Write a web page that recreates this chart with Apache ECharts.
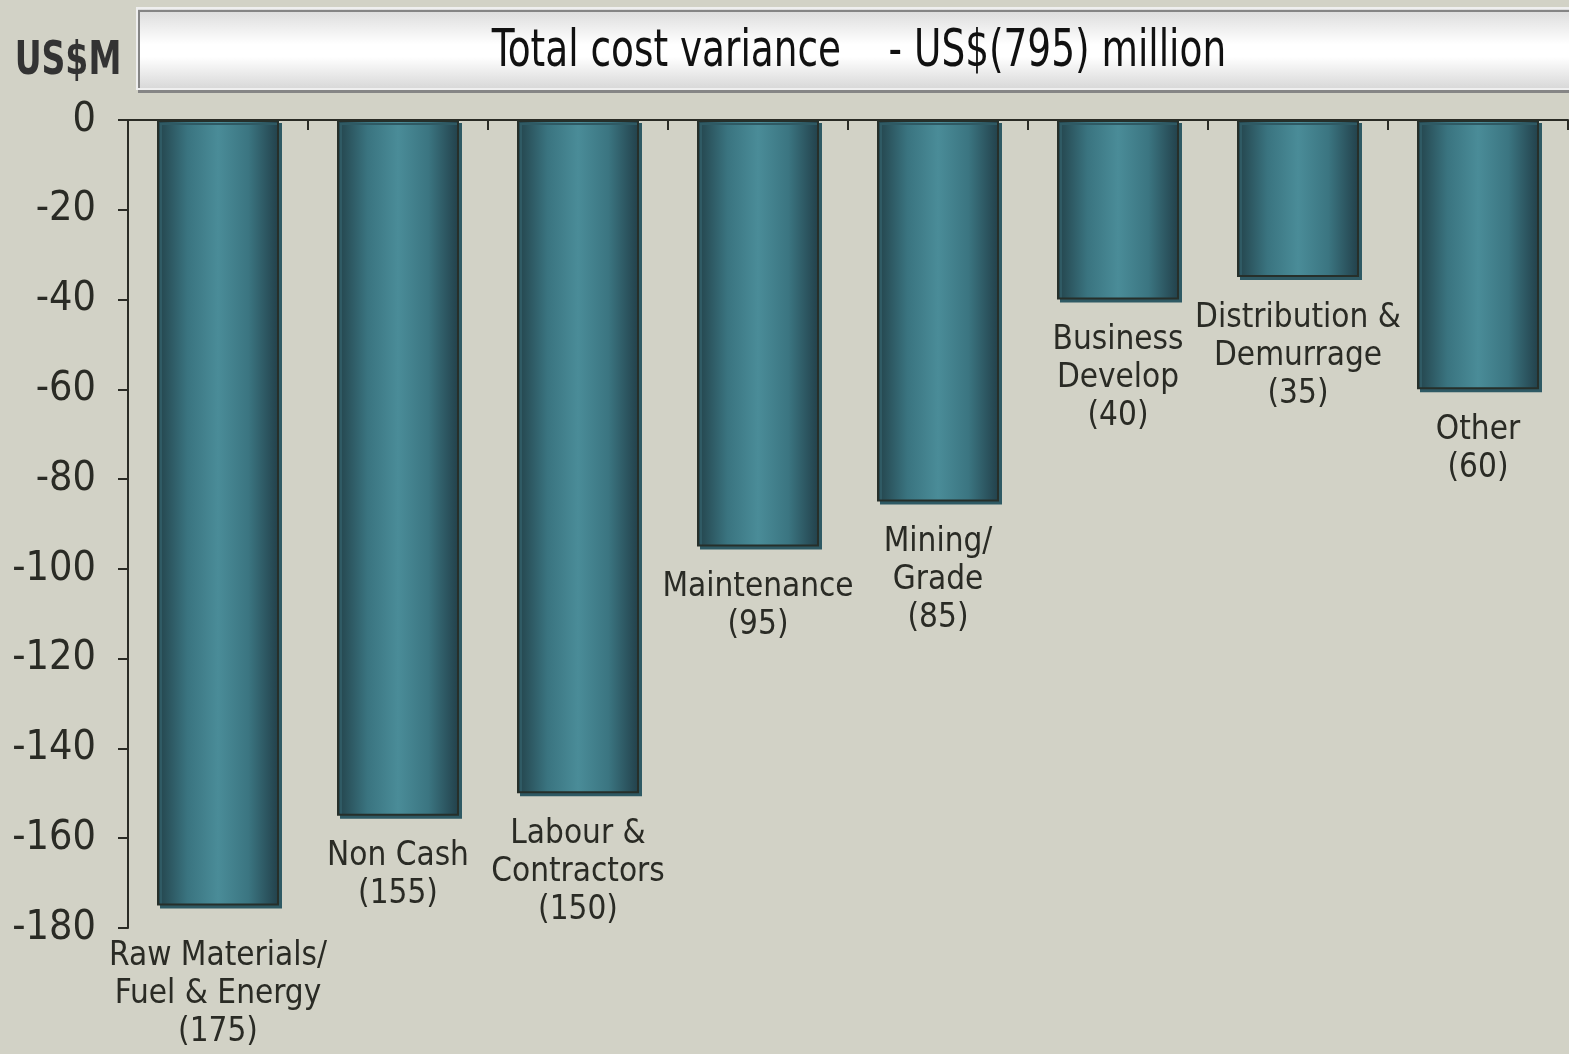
<!DOCTYPE html>
<html>
<head>
<meta charset="utf-8">
<style>
  html, body { margin: 0; padding: 0; background: #d2d2c6; }
  #chart { width: 1569px; height: 1054px; }
</style>
<script src="https://cdn.jsdelivr.net/npm/echarts@6/dist/echarts.min.js"></script>
</head>
<body>
<div id="chart"></div>
<script>
const categories = [
    'Raw Materials/\nFuel & Energy',
    'Non Cash',
    'Labour &\nContractors',
    'Maintenance',
    'Mining/\nGrade',
    'Business\nDevelop',
    'Distribution &\nDemurrage',
    'Other'
];
const variance = [-175, -155, -150, -95, -85, -40, -35, -60];
const unitLabel = 'US$M';
const titleText = 'Total cost variance    - US$(795) million';

const font = '"DejaVu Sans Condensed", "Liberation Sans Narrow", sans-serif';
const ink = '#2a2b25';

const myChart = echarts.init(document.getElementById('chart'));

// first label sits a bit lower, clear of the bottom axis label
const barData = variance.map(function (v, i) {
    return i === 0 ? { value: v, label: { distance: 32 } } : v;
});

const option = {
    backgroundColor: '#d2d2c6',
    animation: false,
    grid: { left: 128, right: 1, top: 120, bottom: 126 },
    graphic: [
        {
            type: 'rect',
            shape: { x: 137, y: 8, width: 1440, height: 81 },
            style: {
                fill: new echarts.graphic.LinearGradient(0, 0, 0, 1, [
                    { offset: 0, color: '#d9d9d9' },
                    { offset: 0.45, color: '#ffffff' },
                    { offset: 0.6, color: '#ffffff' },
                    { offset: 1, color: '#d6d6d6' }
                ]),
                stroke: '#efefef',
                lineWidth: 2,
                shadowColor: '#858585',
                shadowOffsetX: 2,
                shadowOffsetY: 3
            }
        },
        {
            type: 'text',
            x: 859, y: 52,
            scaleX: 0.8,
            style: {
                text: titleText,
                fill: '#111',
                font: '52px ' + font,
                align: 'center',
                verticalAlign: 'middle'
            }
        },
        {
            type: 'text',
            x: 68, y: 62,
            scaleX: 0.8,
            style: {
                text: unitLabel,
                fill: '#333',
                font: 'bold 46px ' + font,
                align: 'center',
                verticalAlign: 'middle'
            }
        }
    ],
    xAxis: {
        type: 'category',
        data: categories,
        axisLine: { onZero: true, lineStyle: { color: ink, width: 2 } },
        axisTick: { show: true, length: 10, lineStyle: { color: ink, width: 2 } },
        axisLabel: { show: false }
    },
    yAxis: {
        type: 'value',
        min: -180,
        max: 0,
        interval: 20,
        splitLine: { show: false },
        axisLine: { show: true, lineStyle: { color: ink, width: 2 } },
        axisTick: { show: true, length: 10, lineStyle: { color: ink, width: 2 } },
        axisLabel: {
            color: ink,
            fontFamily: font,
            fontSize: 41,
            margin: 32
        }
    },
    series: [
        {
            type: 'bar',
            data: barData,
            barWidth: 122,
            itemStyle: {
                color: new echarts.graphic.LinearGradient(0, 0, 1, 0, [
                    { offset: 0, color: '#23424a' },
                    { offset: 0.25, color: '#3a7480' },
                    { offset: 0.5, color: '#4a8c98' },
                    { offset: 0.75, color: '#3b7581' },
                    { offset: 1, color: '#22404a' }
                ]),
                borderColor: '#262f2a',
                borderWidth: 2,
                shadowColor: '#2f5a64',
                shadowOffsetX: 3,
                shadowOffsetY: 3
            },
            label: {
                show: true,
                position: 'bottom',
                distance: 22,
                color: ink,
                fontFamily: font,
                fontSize: 33,
                lineHeight: 38,
                align: 'center',
                formatter: function (p) {
                    return p.name + '\n(' + Math.abs(p.value) + ')';
                }
            }
        }
    ]
};

myChart.setOption(option);
window.addEventListener('resize', myChart.resize);
</script>
</body>
</html>
